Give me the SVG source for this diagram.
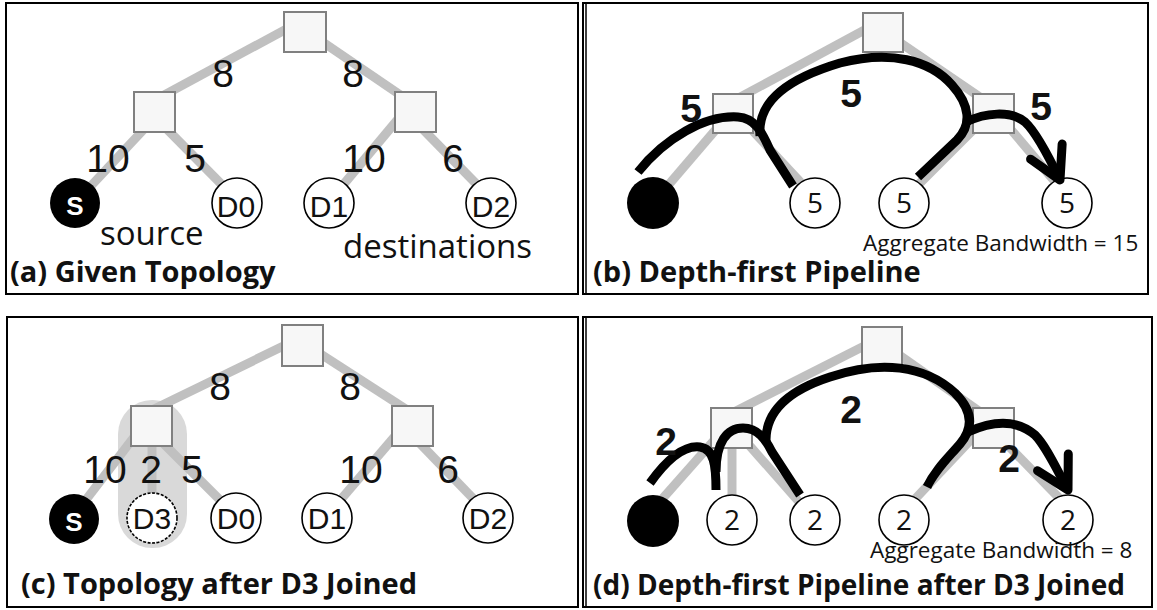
<svg xmlns="http://www.w3.org/2000/svg" width="1157" height="610" viewBox="0 0 1157 610">
<style>
.frame{fill:#fff;stroke:#000;stroke-width:2}
.link{stroke:#c0c0c0;stroke-width:9;fill:none}
.sw{fill:#f7f7f7;stroke:#808080;stroke-width:2}
.host{fill:#fff;stroke:#000;stroke-width:1.6}
.dash{stroke-dasharray:3 1.5}
.src{fill:#000}
.flow{fill:none;stroke:#000;stroke-width:9}
.w{font-family:"Liberation Sans",Arial,sans-serif;font-size:39px;text-anchor:middle;fill:#111}
.bw{font-family:"Liberation Sans",Arial,sans-serif;font-size:39px;font-weight:bold;text-anchor:middle;fill:#111}
.nl{font-family:"Liberation Sans",Arial,sans-serif;font-size:30px;text-anchor:middle;fill:#111}
.sl{font-family:"Liberation Sans",Arial,sans-serif;font-size:26px;font-weight:bold;text-anchor:middle;fill:#fff}
.num{font-family:"Open Sans",sans-serif;font-size:28px;text-anchor:middle;fill:#111}
.cap{font-family:"Open Sans",sans-serif;font-size:33px;fill:#111}
.agg{font-family:"Open Sans",sans-serif;font-size:22.5px;fill:#111}
.title{font-family:"Open Sans",sans-serif;font-size:29px;font-weight:bold;fill:#111}
</style>
<defs>
<marker id="head" markerUnits="userSpaceOnUse" viewBox="-45 -30 55 60" refX="0" refY="0" markerWidth="55" markerHeight="60" orient="auto">
<path d="M-31.5 -17.5 L0 0 L-31.5 17.5" fill="none" stroke="#000" stroke-width="9" stroke-linecap="round" stroke-linejoin="round"/>
</marker>
</defs>

<!-- (a) given topology -->
<g id="panel-a">
<rect class="frame" x="6" y="3" width="572" height="291"/>
<g id="a-links">
<line class="link" x1="305" y1="19" x2="155" y2="100"/>
<line class="link" x1="305" y1="30" x2="415" y2="105"/>
<line class="link" x1="160" y1="112" x2="75" y2="203"/>
<line class="link" x1="150" y1="112" x2="240" y2="203"/>
<line class="link" x1="404" y1="112" x2="328" y2="203"/>
<line class="link" x1="406" y1="112" x2="495" y2="203"/>
</g>
<g id="a-core"><rect class="sw" x="284" y="12" width="42" height="40"/></g>
<g id="a-left"><rect class="sw" x="134" y="92" width="41" height="40"/></g>
<g id="a-right"><rect class="sw" x="395" y="92" width="41" height="40"/></g>
<g id="a-s"><circle class="src" cx="75" cy="203" r="25"/><text class="sl" x="75" y="215">S</text></g>
<g id="a-d0"><circle class="host" cx="237" cy="203" r="25"/><text class="nl" x="236" y="217">D0</text></g>
<g id="a-d1"><circle class="host" cx="329" cy="203" r="25"/><text class="nl" x="329" y="217">D1</text></g>
<g id="a-d2"><circle class="host" cx="491" cy="203" r="25"/><text class="nl" x="491" y="217">D2</text></g>
<text class="w" x="223" y="87">8</text>
<text class="w" x="353" y="87">8</text>
<text class="w" x="108" y="172">10</text>
<text class="w" x="195" y="172">5</text>
<text class="w" x="364" y="172">10</text>
<text class="w" x="453" y="172">6</text>
<text class="cap" x="100" y="245">source</text>
<text class="cap" x="343" y="258">destinations</text>
<text class="title" x="10" y="282">(a) Given Topology</text>
</g>

<!-- (b) depth-first pipeline -->
<g id="panel-b">
<rect class="frame" x="583" y="3" width="565" height="291"/>
<line x1="586" y1="4" x2="586" y2="293" stroke="#000" stroke-width="1.5"/>
<g id="b-links">
<line class="link" x1="883" y1="20" x2="733" y2="101"/>
<line class="link" x1="883" y1="31" x2="993" y2="106"/>
<line class="link" x1="730" y1="113" x2="653" y2="203"/>
<line class="link" x1="736" y1="113" x2="820" y2="203"/>
<line class="link" x1="990" y1="113" x2="900" y2="203"/>
<line class="link" x1="997" y1="113" x2="1073" y2="203"/>
</g>
<g id="b-core"><rect class="sw" x="863" y="13" width="40" height="39"/></g>
<g id="b-left"><rect class="sw" x="713" y="94" width="40" height="39"/></g>
<g id="b-right"><rect class="sw" x="973" y="94" width="41" height="39"/></g>
<g id="b-s"><circle class="src" cx="653" cy="203" r="26"/></g>
<g id="b-d0"><circle class="host" cx="815" cy="203" r="25"/><text class="num" x="815" y="213">5</text></g>
<g id="b-d1"><circle class="host" cx="904" cy="203" r="25"/><text class="num" x="904" y="213">5</text></g>
<g id="b-d2"><circle class="host" cx="1067" cy="203" r="25"/><text class="num" x="1067" y="213">5</text></g>
<g id="b-flows">
<path class="flow" d="M638 172 C665 138 705 115 738 117 C755 118 762 132 770 150 L793 186"/>
<path class="flow" d="M760 136 C757 100 790 78 840 63 C890 50 930 60 952 85 C970 105 972 125 957 140 L918 177"/>
<path class="flow" d="M966 122 C985 113 1010 110 1025 122 C1036 132 1048 155 1060 180" marker-end="url(#head)"/>
</g>
<text class="bw" x="691" y="122">5</text>
<text class="bw" x="851" y="107">5</text>
<text class="bw" x="1041" y="120">5</text>
<text class="agg" x="863" y="251">Aggregate Bandwidth = 15</text>
<text class="title" x="593" y="282">(b) Depth-first Pipeline</text>
</g>

<!-- (c) topology after D3 joined -->
<g id="panel-c">
<rect class="frame" x="7" y="317" width="571" height="290"/>
<rect x="118" y="400" width="69" height="148" rx="34" fill="#d9d9d9"/>
<g id="c-links">
<line class="link" x1="302" y1="337" x2="152" y2="410"/>
<line class="link" x1="302" y1="342" x2="412" y2="413"/>
<line class="link" x1="141" y1="428" x2="72" y2="518"/>
<line class="link" x1="152" y1="428" x2="152" y2="500"/>
<line class="link" x1="148" y1="428" x2="238" y2="518"/>
<line class="link" x1="402" y1="428" x2="325" y2="518"/>
<line class="link" x1="405" y1="428" x2="492" y2="518"/>
</g>
<g id="c-core"><rect class="sw" x="282" y="325" width="41" height="41"/></g>
<g id="c-left"><rect class="sw" x="131" y="406" width="41" height="40"/></g>
<g id="c-right"><rect class="sw" x="392" y="406" width="41" height="40"/></g>
<g id="c-s"><circle class="src" cx="74" cy="519" r="25"/><text class="sl" x="74" y="531">S</text></g>
<g id="c-d3"><circle class="host dash" cx="152" cy="518" r="25"/><text class="nl" x="152" y="529">D3</text></g>
<g id="c-d0"><circle class="host" cx="236" cy="518" r="25"/><text class="nl" x="236" y="529">D0</text></g>
<g id="c-d1"><circle class="host" cx="327" cy="518" r="25"/><text class="nl" x="327" y="529">D1</text></g>
<g id="c-d2"><circle class="host" cx="488" cy="518" r="25"/><text class="nl" x="488" y="529">D2</text></g>
<text class="w" x="220" y="400">8</text>
<text class="w" x="350" y="400">8</text>
<text class="w" x="105" y="483">10</text>
<text class="w" x="151" y="483">2</text>
<text class="w" x="192" y="483">5</text>
<text class="w" x="361" y="483">10</text>
<text class="w" x="448" y="483">6</text>
<text class="title" x="21" y="594">(c) Topology after D3 Joined</text>
</g>

<!-- (d) depth-first pipeline after D3 joined -->
<g id="panel-d">
<rect class="frame" x="583" y="317" width="569" height="290"/>
<line x1="586" y1="318" x2="586" y2="606" stroke="#000" stroke-width="1.5"/>
<g id="d-links">
<line class="link" x1="882" y1="337" x2="732" y2="413"/>
<line class="link" x1="882" y1="343" x2="993" y2="421"/>
<line class="link" x1="725" y1="428" x2="648" y2="515"/>
<line class="link" x1="732" y1="428" x2="732" y2="500"/>
<line class="link" x1="734" y1="428" x2="815" y2="520"/>
<line class="link" x1="982" y1="428" x2="900" y2="515"/>
<line class="link" x1="991" y1="428" x2="1066" y2="505"/>
</g>
<g id="d-core"><rect class="sw" x="862" y="327" width="40" height="39"/></g>
<g id="d-left"><rect class="sw" x="711" y="408" width="41" height="40"/></g>
<g id="d-right"><rect class="sw" x="973" y="408" width="41" height="40"/></g>
<g id="d-s"><circle class="src" cx="653" cy="521" r="26"/></g>
<g id="d-d3"><circle class="host" cx="732" cy="520" r="25"/><text class="num" x="732" y="530">2</text></g>
<g id="d-d0"><circle class="host" cx="815" cy="520" r="25"/><text class="num" x="815" y="530">2</text></g>
<g id="d-d1"><circle class="host" cx="904" cy="520" r="25"/><text class="num" x="904" y="530">2</text></g>
<g id="d-d2"><circle class="host" cx="1068" cy="520" r="25"/><text class="num" x="1068" y="530">2</text></g>
<g id="d-flows">
<path class="flow" d="M650 483 C668 458 685 445 700 447 C714 449 716 465 716 490"/>
<path class="flow" d="M716 472 C716 442 727 428 743 428 C758 428 766 440 772 452 L800 495"/>
<path class="flow" d="M766 442 C765 410 790 390 830 377 C880 360 925 365 955 393 C975 413 972 430 960 444 C948 458 935 470 927 487"/>
<path class="flow" d="M968 432 C990 422 1015 418 1035 435 C1046 446 1056 468 1068 490" marker-end="url(#head)"/>
</g>
<text class="bw" x="666" y="455">2</text>
<text class="bw" x="851" y="423">2</text>
<text class="bw" x="1009" y="472">2</text>
<text class="agg" x="870" y="558">Aggregate Bandwidth = 8</text>
<text class="title" x="593" y="595" style="font-size:28px">(d) Depth-first Pipeline after D3 Joined</text>
</g>
</svg>
